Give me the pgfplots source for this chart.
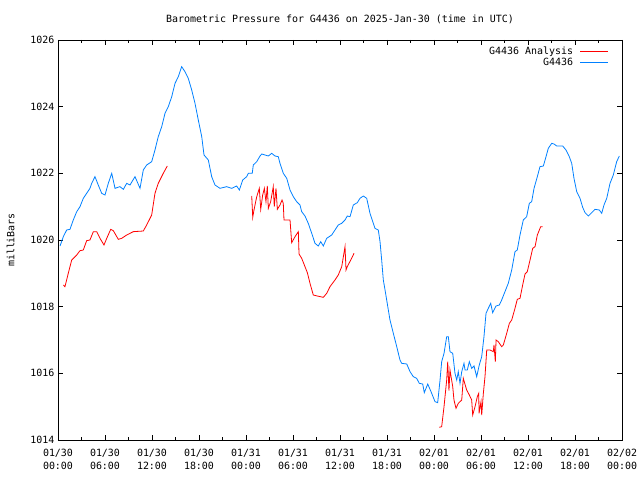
\documentclass[border=0pt]{standalone}
\usepackage{fontspec}
\setmainfont{DejaVu Sans Mono}
\usepackage{pgfplots}
\pgfplotsset{compat=1.18}
\definecolor{gred}{RGB}{255,0,0}
\definecolor{gblue}{RGB}{0,128,255}
\newcommand{\gfont}{\fontsize{10}{13}\selectfont}

\begin{document}
\begin{tikzpicture}
\begin{axis}[
    name=ax,
    scale only axis,
    width=564bp, height=400bp,
    xmin=0, xmax=72,
    ymin=1014, ymax=1026,
    xtick={0,6,...,72},
    minor xtick={3,9,...,69},
    xticklabels={{01/30\\00:00},{01/30\\06:00},{01/30\\12:00},{01/30\\18:00},
                 {01/31\\00:00},{01/31\\06:00},{01/31\\12:00},{01/31\\18:00},
                 {02/01\\00:00},{02/01\\06:00},{02/01\\12:00},{02/01\\18:00},
                 {02/02\\00:00}},
    ytick={1014,1016,...,1026},
    yticklabel style={/pgf/number format/1000 sep={}},
    /pgf/number format/assume math mode=true,
    tick align=inside,
    major tick length=5bp,
    minor tick length=3bp,
    tick style={black, line width=0.8bp},
    axis line style={line width=0.8bp},
    ticklabel style={font=\gfont},
    xticklabel style={align=center, yshift=-6bp},
    title={Barometric Pressure for G4436 on 2025-Jan-30 (time in UTC)},
    title style={font=\gfont, at={(0.5,1)}, anchor=base, yshift=12bp},
    ylabel={milliBars},
    ylabel style={font=\gfont, at={(axis description cs:-0.084,0.5)}, anchor=center},
    legend cell align=right,
    legend plot pos=right,
    legend image code/.code={\path (0bp,0bp); \draw[#1] (5bp,0bp) -- (33bp,0bp);},
    legend style={draw=none, fill=none, font=\gfont, at={(1,1)}, anchor=north east,
        xshift=-10bp, yshift=-3bp, row sep=-2.5bp},
]

% G4436 Analysis, first piece
\addplot[gred, line width=0.8bp] coordinates {
(0.68,1018.65)(0.89,1018.60)(1.31,1019.00)(1.75,1019.40)(2.39,1019.55)(2.81,1019.68)
(3.23,1019.70)(3.66,1019.98)(4.08,1020.00)(4.51,1020.25)(4.94,1020.25)(5.36,1020.05)
(5.87,1019.85)(6.22,1020.05)(6.73,1020.32)(7.06,1020.28)(7.70,1020.02)(8.13,1020.05)
(8.77,1020.15)(9.61,1020.25)(10.89,1020.27)(11.32,1020.45)(11.96,1020.75)(12.38,1021.40)
(12.80,1021.70)(13.44,1022.00)(13.95,1022.22)
};
\addlegendentry{G4436 Analysis}

% G4436
\addplot[gblue, line width=0.8bp] coordinates {
(0.26,1019.82)(0.68,1020.10)(1.11,1020.30)(1.53,1020.32)(1.95,1020.60)(2.39,1020.85)
(2.81,1021.00)(3.23,1021.25)(3.66,1021.40)(4.08,1021.55)(4.30,1021.70)(4.72,1021.90)
(5.14,1021.65)(5.58,1021.40)(6.00,1021.35)(6.42,1021.70)(6.86,1022.00)(7.28,1021.55)
(7.91,1021.60)(8.34,1021.52)(8.77,1021.70)(9.19,1021.65)(9.83,1021.90)(10.47,1021.55)
(10.89,1022.10)(11.32,1022.25)(11.96,1022.35)(12.38,1022.70)(12.80,1023.10)(13.24,1023.40)
(13.66,1023.80)(14.08,1024.00)(14.52,1024.30)(14.94,1024.70)(15.36,1024.90)(15.79,1025.20)
(16.21,1025.05)(16.63,1024.85)(17.07,1024.50)(17.49,1024.10)(17.91,1023.60)(18.35,1023.10)
(18.64,1022.55)(19.19,1022.40)(19.62,1021.90)(20.04,1021.65)(20.68,1021.55)(21.54,1021.60)
(22.17,1021.55)(22.81,1021.62)(23.15,1021.50)(23.58,1021.80)(24.09,1021.90)(24.30,1022.00)
(24.80,1022.00)(24.93,1022.25)(25.37,1022.35)(25.79,1022.52)(26.01,1022.58)(26.43,1022.55)
(26.85,1022.52)(27.28,1022.60)(27.70,1022.52)(28.12,1022.50)(28.34,1022.30)(28.76,1022.00)
(29.20,1021.85)(29.62,1021.50)(30.04,1021.30)(30.47,1021.15)(30.89,1021.05)(31.11,1020.85)
(31.53,1020.72)(31.95,1020.50)(32.39,1020.20)(32.81,1019.90)(33.23,1019.82)(33.54,1019.95)
(33.87,1019.82)(34.30,1020.05)(34.94,1020.15)(35.36,1020.30)(35.78,1020.45)(36.22,1020.50)
(36.64,1020.60)(36.93,1020.72)(37.28,1020.70)(37.70,1021.05)(38.21,1021.12)(38.55,1021.25)
(38.98,1021.32)(39.41,1021.25)(39.83,1020.80)(40.25,1020.50)(40.47,1020.35)(40.89,1020.30)
(41.11,1019.95)(41.32,1019.40)(41.53,1018.80)(41.75,1018.50)(41.96,1018.20)(42.17,1017.90)
(42.38,1017.60)(42.81,1017.20)(43.24,1016.80)(43.66,1016.40)(43.88,1016.30)(44.52,1016.28)
(44.94,1016.05)(45.36,1015.90)(45.79,1015.85)(46.12,1015.70)(46.56,1015.68)(46.76,1015.42)
(47.20,1015.68)(47.62,1015.45)(48.13,1015.15)(48.47,1015.12)(48.77,1015.80)(48.98,1016.35)
(49.28,1016.60)(49.62,1017.10)(49.83,1017.10)(50.04,1016.65)(50.39,1016.60)(50.68,1016.00)
(50.90,1015.80)(51.10,1016.05)(51.32,1015.70)(51.54,1016.05)(51.83,1016.30)(51.96,1016.10)
(52.25,1016.10)(52.51,1016.35)(52.81,1016.15)(53.11,1016.22)(53.45,1015.90)(53.78,1016.25)
(54.09,1016.50)(54.38,1017.10)(54.64,1017.80)(54.93,1017.95)(55.24,1018.10)(55.49,1017.82)
(55.92,1018.02)(56.34,1018.05)(56.64,1018.20)(57.06,1018.45)(57.48,1018.70)(57.92,1019.10)
(58.34,1019.65)(58.63,1019.70)(58.98,1020.15)(59.40,1020.60)(59.83,1020.70)(60.17,1021.10)
(60.47,1021.15)(60.77,1021.55)(61.19,1021.90)(61.53,1022.20)(61.96,1022.22)(62.30,1022.50)
(62.59,1022.75)(63.03,1022.90)(63.32,1022.88)(63.66,1022.82)(64.43,1022.82)(64.85,1022.70)
(65.27,1022.50)(65.58,1022.30)(65.87,1021.85)(66.22,1021.45)(66.64,1021.25)(66.98,1020.98)
(67.28,1020.82)(67.70,1020.72)(68.13,1020.82)(68.55,1020.92)(69.10,1020.90)(69.41,1020.80)
(69.70,1021.05)(70.05,1021.25)(70.47,1021.70)(70.89,1021.95)(71.32,1022.35)(71.66,1022.52)
};
\addlegendentry{G4436}

% G4436 Analysis, second piece
\addplot[gred, line width=0.8bp, forget plot] coordinates {
(24.73,1021.32)(24.86,1020.68)(25.02,1020.90)(25.37,1021.30)(25.70,1021.55)(25.88,1020.92)
(26.13,1021.35)(26.34,1021.55)(26.55,1021.15)(26.72,1021.62)(26.85,1020.95)(27.15,1021.15)
(27.48,1021.60)(27.61,1021.00)(27.83,1021.55)(28.00,1020.92)(28.34,1021.05)(28.60,1021.20)
(28.76,1021.10)(28.85,1020.60)(29.62,1020.60)(29.83,1019.92)(30.26,1020.10)(30.68,1020.25)
(30.77,1019.58)(31.11,1019.45)(31.53,1019.20)(31.83,1019.02)(32.17,1018.70)(32.59,1018.35)
(33.10,1018.32)(33.87,1018.28)(34.30,1018.40)(34.72,1018.60)(35.36,1018.80)(35.78,1018.95)
(36.22,1019.20)(36.64,1019.80)(36.77,1019.10)(36.93,1019.20)(37.37,1019.40)(37.79,1019.60)
};

% G4436 Analysis, third piece
\addplot[gred, line width=0.8bp, forget plot] coordinates {
(48.68,1014.38)(48.98,1014.40)(49.28,1015.00)(49.62,1015.80)(49.75,1016.35)(49.91,1015.48)
(50.04,1016.10)(50.39,1015.60)(50.55,1015.20)(50.81,1014.95)(51.10,1015.10)(51.54,1015.20)
(51.74,1015.85)(52.17,1015.50)(52.51,1015.35)(52.81,1015.20)(52.94,1014.75)(53.24,1015.00)
(53.53,1015.30)(53.71,1015.40)(53.75,1014.80)(54.00,1015.15)(54.09,1014.75)(54.30,1015.40)
(54.51,1015.90)(54.73,1016.70)(55.15,1016.70)(55.57,1016.65)(55.66,1016.85)(55.83,1016.35)
(55.92,1017.00)(56.21,1016.95)(56.64,1016.80)(56.85,1016.85)(57.28,1017.20)(57.62,1017.50)
(57.92,1017.60)(58.34,1017.95)(58.63,1018.22)(58.98,1018.25)(59.32,1018.65)(59.62,1018.98)
(59.91,1019.05)(60.26,1019.40)(60.60,1019.75)(60.90,1019.80)(61.19,1020.15)(61.62,1020.40)
(61.88,1020.40)
};

\end{axis}
\pgfresetboundingbox
\path[use as bounding box] ([shift={(-58bp,-40bp)}]ax.south west) rectangle ++(640bp,480bp);
\end{tikzpicture}
\end{document}
